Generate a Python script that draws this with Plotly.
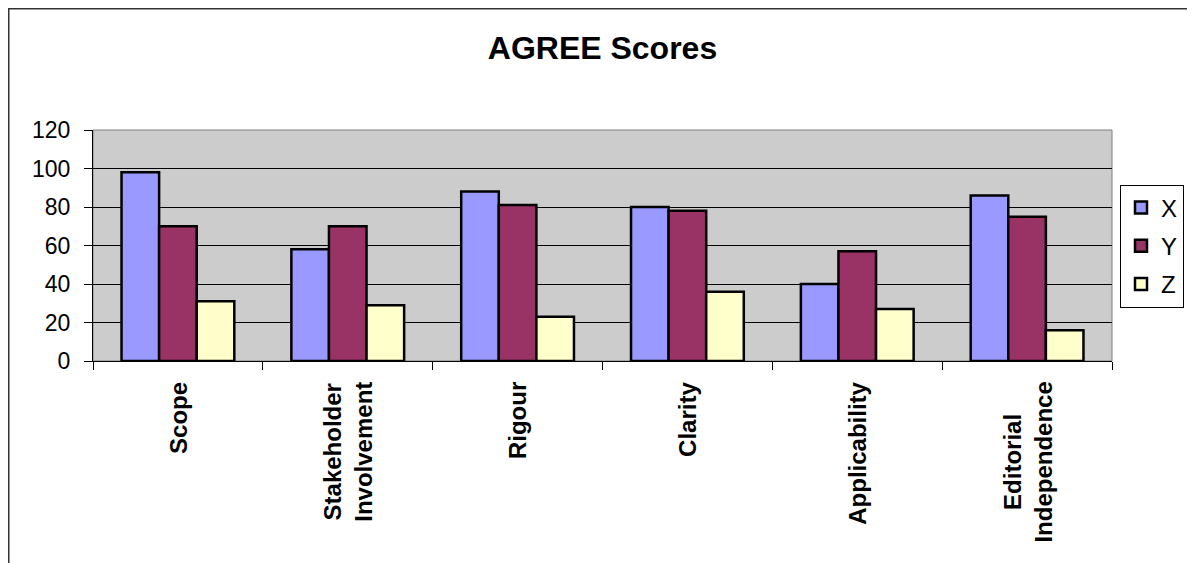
import plotly.graph_objects as go

categories = ["Scope", "Stakeholder<br>Involvement", "Rigour", "Clarity",
              "Applicability", "Editorial<br>Independence"]
x_scores = [98, 58, 88, 80, 40, 86]
y_scores = [70, 70, 81, 78, 57, 75]
z_scores = [31, 29, 23, 36, 27, 16]
series_names = ["X", "Y", "Z"]
colors = ["#9999FF", "#993366", "#FFFFCC"]
y_ticks = [0, 20, 40, 60, 80, 100, 120]

FONT = "Liberation Sans, Arial, sans-serif"
OFF = 8  # page body margin
W, H = 1195 - OFF, 563 - OFF
L, R, T, B = 93 - OFF, W - (1112 - OFF), 130 - OFF, H - (361 - OFF)
pw, ph = W - L - R, H - T - B


def fx(p):
    """page pixel x -> paper coordinate"""
    return (p - OFF - L) / pw


def fy(p):
    """page pixel y -> paper coordinate"""
    return (H - B - (p - OFF)) / ph


fig = go.Figure()
for name, vals, col in zip(series_names, [x_scores, y_scores, z_scores], colors):
    fig.add_trace(go.Bar(
        x=categories, y=vals, name=name, legendgroup=name,
        marker=dict(color=col, line=dict(color="black", width=2.5)),
    ))

shapes = [
    dict(type="rect", xref="paper", yref="paper", x0=0, x1=1, y0=0, y1=1,
         line=dict(color="#808080", width=1), layer="below"),
    dict(type="rect", xref="paper", yref="paper",
         x0=fx(OFF + 0.75), x1=fx(1215), y0=fy(590), y1=fy(OFF + 0.75),
         line=dict(color="#333333", width=1.5)),
]

annotations = [
    dict(text="<b>" + c + "</b>", x=c, xref="x", y=fy(380), yref="paper",
         xanchor="center", yanchor="top", textangle=-90, align="center",
         showarrow=False, font=dict(size=24, family=FONT, color="black"))
    for c in categories
]

fig.update_layout(
    width=W, height=H,
    margin=dict(l=L, r=R, t=T, b=B, autoexpand=False),
    paper_bgcolor="white",
    plot_bgcolor="#CCCCCC",
    barmode="group",
    bargap=0.336,
    bargroupgap=0,
    font=dict(family=FONT, color="black"),
    title=dict(text="<b>AGREE Scores</b>", x=0.5, xref="paper",
               y=1 - (48 - OFF) / H, yref="container", yanchor="middle",
               xanchor="center",
               font=dict(size=32, family=FONT, color="black")),
    xaxis=dict(
        showticklabels=False,
        tickson="boundaries", ticks="outside", ticklen=8, tickcolor="black",
        showline=True, linecolor="black", linewidth=1,
        showgrid=False,
    ),
    yaxis=dict(
        range=[0, 120], tickvals=y_ticks, ticks="outside", ticklen=8,
        tickcolor="black", tickfont=dict(size=23, family=FONT, color="black"),
        ticklabelstandoff=9,
        showline=True, linecolor="black", linewidth=1,
        showgrid=True, gridcolor="black", gridwidth=1, zeroline=False,
    ),
    legend=dict(
        x=fx(1120), xanchor="left", y=fy(246), yanchor="middle",
        bordercolor="black", borderwidth=1, bgcolor="white",
        font=dict(size=24, family=FONT, color="black"),
        tracegroupgap=4, itemwidth=30,
    ),
    shapes=shapes,
    annotations=annotations,
)

fig.write_html("out.html")
